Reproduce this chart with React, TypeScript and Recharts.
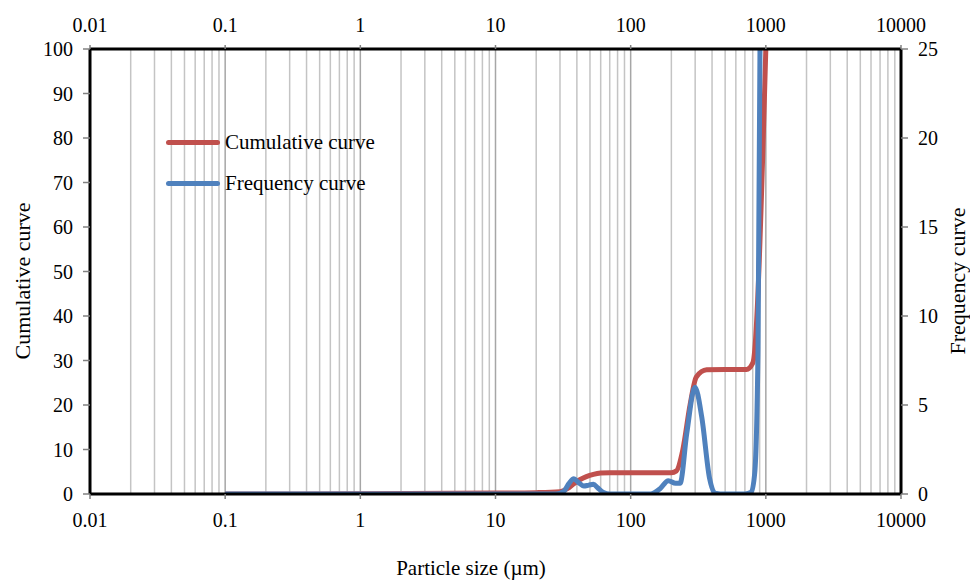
import React from 'react';
import { LineChart, Line, XAxis, YAxis, ReferenceLine, Legend, Label } from 'recharts';

// particle size ticks (µm)
const majorTicks = [0.01, 0.1, 1, 10, 100, 1000, 10000];
const minorTicks = majorTicks.slice(0, -1).flatMap((d) => [2, 3, 4, 5, 6, 7, 8, 9].map((m) => d * m));
const leftTicks = [0, 10, 20, 30, 40, 50, 60, 70, 80, 90, 100];
const rightTicks = [0, 5, 10, 15, 20, 25];

// cumulative curve (%)
const cumSizes = [0.1, 1, 10, 20, 30, 34, 38, 42, 47, 53, 60, 70, 100, 200, 218, 243, 275, 306, 365, 500, 720, 800, 1000];
const cumValues = [0, 0.05, 0.2, 0.3, 0.5, 1.2, 2.3, 3.2, 3.9, 4.4, 4.7, 4.8, 4.8, 4.8, 5.2, 9.9, 20, 26.3, 27.9, 28, 28, 29.4, 100];

// frequency curve (%)
const freqSizes = [0.1, 1, 10, 28, 32, 35, 38, 41, 45, 49, 53, 57, 63, 70, 100, 140, 165, 190, 215, 232, 260, 299, 336, 383, 420, 500, 700, 780, 828, 875, 905];
const freqValues = [0, 0, 0, 0, 0.15, 0.6, 0.85, 0.65, 0.45, 0.5, 0.55, 0.35, 0.08, 0, 0, 0, 0.3, 0.75, 0.6, 0.6, 3.4, 6.0, 4.3, 0.9, 0.05, 0, 0, 0.1, 1.2, 8, 25];

const cumData = cumSizes.map((x, i) => ({ x, y: cumValues[i] }));
const freqData = freqSizes.map((x, i) => ({ x, y: freqValues[i] }));

const RED = '#C0504D';
const BLUE = '#4F81BD';
const FONT = '"Liberation Serif", "Times New Roman", serif';

const tickStyle = { fill: '#000', fontSize: 20, fontFamily: FONT };
const axisLine = { stroke: '#000', strokeWidth: 3 };
const tickLine = { stroke: '#808080', strokeWidth: 1.5 };

const fmt = (v: number) => String(v);

const LegendBox = () => (
  <div style={{ fontFamily: FONT, fontSize: 21, color: '#000' }}>
    {[
      { name: 'Cumulative curve', color: RED },
      { name: 'Frequency curve', color: BLUE },
    ].map((item, i) => (
      <div key={item.name} style={{ display: 'flex', alignItems: 'center', height: 28, marginTop: i ? 13 : 0 }}>
        <span style={{ display: 'inline-block', width: 54, height: 5, borderRadius: 3, background: item.color, marginRight: 5 }} />
        <span style={{ lineHeight: '28px', whiteSpace: 'nowrap' }}>{item.name}</span>
      </div>
    ))}
  </div>
);

export default function App() {
  return (
    <div style={{ position: 'absolute', left: 0, top: 0, width: 970, height: 580, background: '#fff' }}>
      <LineChart width={970} height={580} margin={{ top: 19, right: 19, bottom: 56, left: 10 }} style={{ fontFamily: FONT }}>
        <XAxis
          xAxisId="bottom"
          dataKey="x"
          type="number"
          scale="log"
          domain={[0.01, 10000]}
          allowDataOverflow
          ticks={majorTicks}
          tickFormatter={fmt}
          height={30}
          tick={tickStyle}
          axisLine={axisLine}
          tickLine={tickLine}
          tickSize={5}
          tickMargin={14}
        >
          <Label
            content={() => (
              <text x={471} y={575} textAnchor="middle" fontSize={21} fontFamily={FONT} fill="#000">
                Particle size (µm)
              </text>
            )}
          />
        </XAxis>
        <XAxis
          xAxisId="top"
          orientation="top"
          dataKey="x"
          type="number"
          scale="log"
          domain={[0.01, 10000]}
          allowDataOverflow
          ticks={majorTicks}
          tickFormatter={fmt}
          height={30}
          tick={tickStyle}
          axisLine={axisLine}
          tickLine={tickLine}
          tickSize={4}
          tickMargin={13}
        />
        <YAxis
          yAxisId="left"
          domain={[0, 100]}
          ticks={leftTicks}
          width={80}
          tick={tickStyle}
          axisLine={axisLine}
          tickLine={tickLine}
          tickSize={7}
          tickMargin={10}
          allowDataOverflow
        >
          <Label
            content={() => (
              <text x={30} y={281} transform="rotate(-90 30 281)" textAnchor="middle" fontSize={22} fontFamily={FONT} fill="#000">
                Cumulative curve
              </text>
            )}
          />
        </YAxis>
        <YAxis
          yAxisId="right"
          orientation="right"
          domain={[0, 25]}
          ticks={rightTicks}
          width={50}
          tick={tickStyle}
          axisLine={axisLine}
          tickLine={tickLine}
          tickSize={7}
          tickMargin={10}
          allowDataOverflow
        >
          <Label
            content={() => (
              <text x={965} y={281} transform="rotate(-90 965 281)" textAnchor="middle" fontSize={22} fontFamily={FONT} fill="#000">
                Frequency curve
              </text>
            )}
          />
        </YAxis>
        {minorTicks.map((t) => (
          <ReferenceLine key={'m' + t} x={t} xAxisId="bottom" yAxisId="left" stroke="#C4C4C4" strokeWidth={1.5} />
        ))}
        {majorTicks.slice(1, -1).map((t) => (
          <ReferenceLine key={'M' + t} x={t} xAxisId="bottom" yAxisId="left" stroke="#A6A6A6" strokeWidth={1.5} />
        ))}
        <Line
          data={cumData}
          dataKey="y"
          name="Cumulative curve"
          xAxisId="bottom"
          yAxisId="left"
          type="monotone"
          stroke={RED}
          strokeWidth={5}
          dot={false}
          isAnimationActive={false}
        />
        <Line
          data={freqData}
          dataKey="y"
          name="Frequency curve"
          xAxisId="bottom"
          yAxisId="right"
          type="monotone"
          stroke={BLUE}
          strokeWidth={5}
          dot={false}
          isAnimationActive={false}
        />
        <Legend
          layout="vertical"
          align="center"
          verticalAlign="middle"
          content={() => <LegendBox />}
          wrapperStyle={{ position: 'absolute', left: 166, top: 128, width: 260, right: 'auto', bottom: 'auto' }}
        />
      </LineChart>
    </div>
  );
}
